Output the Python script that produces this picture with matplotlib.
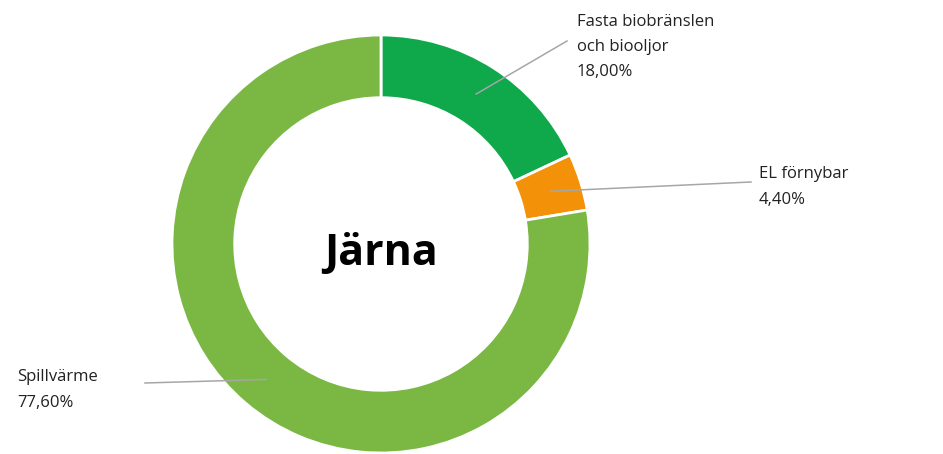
import numpy as np
import matplotlib
matplotlib.use("Agg")
import matplotlib.pyplot as plt

# data
labels = ["Fasta biobränslen\noch biooljor", "EL förnybar", "Spillvärme"]
shares = [18.00, 4.40, 77.60]
colors = ["#0FA84B", "#F39208", "#7AB843"]
title = "Järna"

plt.rcParams['font.family'] = ['Open Sans', 'DejaVu Sans']

W, H = 943, 454
cx, cy, R = 381, 244, 209   # donut centre / radius in pixels

fig = plt.figure(figsize=(W / 100, H / 100), dpi=100)
ax = fig.add_axes([0, 0, 1, 1])

wedges, _ = ax.pie(shares, colors=colors, startangle=90, counterclock=False,
                   radius=1.0, wedgeprops=dict(width=0.30, edgecolor='white', linewidth=2))

ax.set_xlim(-cx / R, (W - cx) / R)
ax.set_ylim((cy - H) / R, cy / R)
ax.set_aspect('equal')
ax.axis('off')

ax.text(0, -0.045, title, ha='center', va='center', fontsize=31, fontweight='bold',
        color='black')

def px(x, y):
    return (x - cx) / R, (cy - y) / R

# label positions (pixels): line end, text anchor
label_pos = [((567, 41), (577, 47)),
             ((751, 182), (759, 187)),
             ((145, 383), (17, 390))]

for w, lab, val, (lend, tpos) in zip(wedges, labels, shares, label_pos):
    ang = np.deg2rad((w.theta1 + w.theta2) / 2)
    sx, sy = 0.85 * np.cos(ang), 0.85 * np.sin(ang)
    ex, ey = px(*lend)
    ax.plot([sx, ex], [sy, ey], color='#A6A6A6', linewidth=1.1, zorder=3)
    tx, ty = px(*tpos)
    txt = lab + "\n" + f"{val:.2f}".replace('.', ',') + "%"
    ax.text(tx, ty, txt, ha='left', va='center', fontsize=12, color='#222222',
            linespacing=1.78)

fig.savefig("out.png", dpi=100, facecolor='white')
